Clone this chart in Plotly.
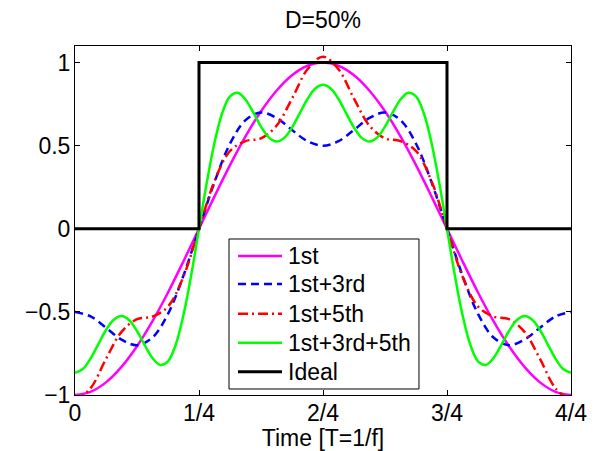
import plotly.graph_objects as go

# Sample times over one period, T = 1/f
t = [0.0, 0.03125, 0.0625, 0.09375, 0.125, 0.15625, 0.1875, 0.21875,
     0.25, 0.28125, 0.3125, 0.34375, 0.375, 0.40625, 0.4375, 0.46875,
     0.5, 0.53125, 0.5625, 0.59375, 0.625, 0.65625, 0.6875, 0.71875,
     0.75, 0.78125, 0.8125, 0.84375, 0.875, 0.90625, 0.9375, 0.96875, 1.0]

# Finer time grid for the three-harmonic sum (it wiggles faster)
t_fine = [0.0, 0.015625, 0.03125, 0.046875, 0.0625, 0.078125, 0.09375, 0.109375,
          0.125, 0.140625, 0.15625, 0.171875, 0.1875, 0.203125, 0.21875, 0.234375,
          0.25, 0.265625, 0.28125, 0.296875, 0.3125, 0.328125, 0.34375, 0.359375,
          0.375, 0.390625, 0.40625, 0.421875, 0.4375, 0.453125, 0.46875, 0.484375,
          0.5, 0.515625, 0.53125, 0.546875, 0.5625, 0.578125, 0.59375, 0.609375,
          0.625, 0.640625, 0.65625, 0.671875, 0.6875, 0.703125, 0.71875, 0.734375,
          0.75, 0.765625, 0.78125, 0.796875, 0.8125, 0.828125, 0.84375, 0.859375,
          0.875, 0.890625, 0.90625, 0.921875, 0.9375, 0.953125, 0.96875, 0.984375, 1.0]

# Partial harmonic sums
first = [-1.000, -0.981, -0.924, -0.831, -0.707, -0.556, -0.383, -0.195,
         0.000, 0.195, 0.383, 0.556, 0.707, 0.831, 0.924, 0.981,
         1.000, 0.981, 0.924, 0.831, 0.707, 0.556, 0.383, 0.195,
         0.000, -0.195, -0.383, -0.556, -0.707, -0.831, -0.924, -0.981, -1.000]

first_third = [-0.500, -0.527, -0.595, -0.667, -0.700, -0.654, -0.512, -0.281,
               0.000, 0.281, 0.512, 0.654, 0.700, 0.667, 0.595, 0.527,
               0.500, 0.527, 0.595, 0.667, 0.700, 0.654, 0.512, 0.281,
               0.000, -0.281, -0.512, -0.654, -0.700, -0.667, -0.595, -0.527, -0.500]

first_fifth = [-1.036, -0.960, -0.783, -0.620, -0.544, -0.528, -0.468, -0.287,
               0.000, 0.287, 0.468, 0.528, 0.544, 0.620, 0.783, 0.960,
               1.036, 0.960, 0.783, 0.620, 0.544, 0.528, 0.468, 0.287,
               0.000, -0.287, -0.468, -0.528, -0.544, -0.620, -0.783, -0.960, -1.036]

first_third_fifth = [-0.867, -0.844, -0.781, -0.695, -0.609, -0.547, -0.525, -0.550,
                     -0.615, -0.700, -0.778, -0.819, -0.797, -0.697, -0.518, -0.277,
                     0.000, 0.277, 0.518, 0.697, 0.797, 0.819, 0.778, 0.700,
                     0.615, 0.550, 0.525, 0.547, 0.609, 0.695, 0.781, 0.844,
                     0.867, 0.844, 0.781, 0.695, 0.609, 0.547, 0.525, 0.550,
                     0.615, 0.700, 0.778, 0.819, 0.797, 0.697, 0.518, 0.277,
                     0.000, -0.277, -0.518, -0.697, -0.797, -0.819, -0.778, -0.700,
                     -0.615, -0.550, -0.525, -0.547, -0.609, -0.695, -0.781, -0.844, -0.867]

# Ideal 50% duty-cycle pulse
ideal_t = [0.0, 0.25, 0.25, 0.75, 0.75, 1.0]
ideal_y = [0, 0, 1, 1, 0, 0]

series_names = ["1st", "1st+3rd", "1st+5th", "1st+3rd+5th", "Ideal"]
series_colors = ["#FF00FF", "#0000FF", "#FF0000", "#00FF00", "#000000"]
series_dashes = ["solid", "8px,5px", "10px,4px,2px,4px", "solid", "solid"]
series_widths = [2.5, 2.5, 2.5, 2.5, 3]

x_tickvals = [0, 0.25, 0.5, 0.75, 1]
x_ticktext = ["0", "1/4", "2/4", "3/4", "4/4"]
y_tickvals = [-1, -0.5, 0, 0.5, 1]
y_ticktext = ["\u22121", "\u22120.5", "0", "0.5", "1"]

FONT = "Liberation Sans, Arial, Helvetica, sans-serif"
FS = 23

fig = go.Figure()
curves = [(t, first), (t, first_third), (t, first_fifth),
          (t_fine, first_third_fifth), (ideal_t, ideal_y)]
for i, (xs, ys) in enumerate(curves):
    fig.add_trace(go.Scatter(
        x=xs, y=ys, name=series_names[i], mode="lines", showlegend=False,
        line=dict(color=series_colors[i], width=series_widths[i],
                  dash=series_dashes[i],
                  shape="spline" if i < 4 else "linear"),
    ))

# Boxed legend in the lower middle of the axes (paper coordinates)
leg_x0, leg_x1 = 0.3105, 0.6935
leg_y0, leg_y1 = 0.0172, 0.447
sample_x0, sample_x1 = 0.3286, 0.4173
text_x = 0.4254
row_y = [0.3981, 0.3181, 0.2331, 0.1499, 0.0668]

shapes = [dict(type="rect", xref="paper", yref="paper",
               x0=leg_x0, x1=leg_x1, y0=leg_y0, y1=leg_y1,
               fillcolor="white", line=dict(color="black", width=1),
               layer="above")]
annotations = []
for i, name in enumerate(series_names):
    shapes.append(dict(type="line", xref="paper", yref="paper",
                       x0=sample_x0, x1=sample_x1, y0=row_y[i], y1=row_y[i],
                       line=dict(color=series_colors[i], width=series_widths[i],
                                 dash=series_dashes[i]),
                       layer="above"))
    annotations.append(dict(text=name, xref="paper", yref="paper",
                            x=text_x, y=row_y[i], xanchor="left", yanchor="middle",
                            showarrow=False,
                            font=dict(family=FONT, size=FS, color="black")))

axis_style = dict(
    showline=True, linecolor="black", linewidth=1, mirror="ticks",
    ticks="inside", ticklen=5, tickcolor="black", tickwidth=1,
    showgrid=False, zeroline=False, automargin=False,
    tickfont=dict(family=FONT, size=FS, color="black"),
)

fig.update_layout(
    width=598, height=451,
    margin=dict(l=75, r=27, t=46, b=56),
    paper_bgcolor="white", plot_bgcolor="white",
    font=dict(family=FONT, size=FS, color="black"),
    title=dict(text="D=50%", x=0.5, xref="paper", xanchor="center",
               y=1 - 20 / 451, yref="container", yanchor="middle",
               font=dict(family=FONT, size=FS, color="black")),
    xaxis=dict(range=[0, 1], tickvals=x_tickvals, ticktext=x_ticktext,
               ticklabelstandoff=-3,
               title=dict(text="Time [T=1/f]", standoff=0,
                          font=dict(family=FONT, size=FS, color="black")),
               **axis_style),
    yaxis=dict(range=[-1, 1.1], tickvals=y_tickvals, ticktext=y_ticktext,
               ticklabelstandoff=-1,
               **axis_style),
    shapes=shapes,
    annotations=annotations,
    showlegend=False,
)

fig.write_html("out.html")
